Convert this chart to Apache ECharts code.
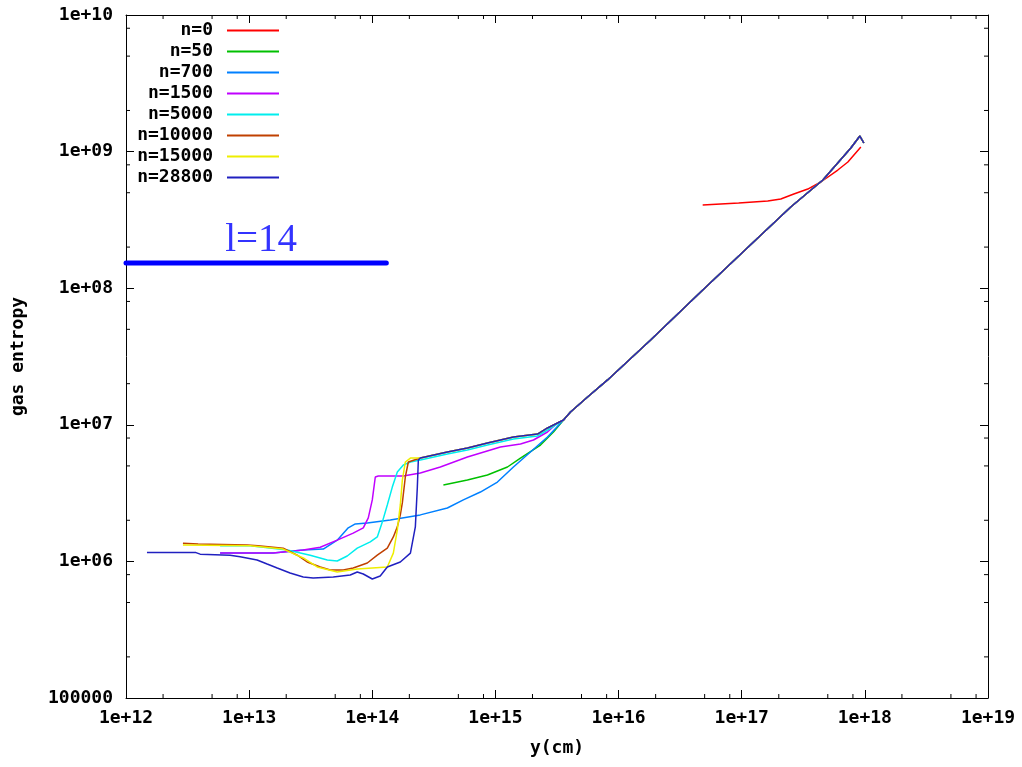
<!DOCTYPE html>
<html>
<head>
<meta charset="utf-8">
<title>gas entropy</title>
<script src="https://cdn.jsdelivr.net/npm/echarts@6/dist/echarts.min.js"></script>
<style>
  html, body { margin: 0; padding: 0; background: #fff; }
  #chart { width: 1022px; height: 767px; }
</style>
</head>
<body>
<div id="chart"></div>
<script>
// ---- tick labels ----
const xTickLabels = ['1e+12', '1e+13', '1e+14', '1e+15', '1e+16', '1e+17', '1e+18', '1e+19'];
const yTickLabels = ['100000', '1e+06', '1e+07', '1e+08', '1e+09', '1e+10'];
const xMinorTicks = [
  2e12, 5e12, 8e12, 2e13, 5e13, 8e13, 2e14, 5e14, 8e14, 2e15, 5e15, 8e15,
  2e16, 5e16, 8e16, 2e17, 5e17, 8e17, 2e18, 5e18, 8e18
];
const yMinorTicks = [
  2e5, 5e5, 8e5, 2e6, 5e6, 8e6, 2e7, 5e7, 8e7, 2e8, 5e8, 8e8, 2e9, 5e9, 8e9
];

// ---- series (y in cm, gas entropy) ----
const seriesNames = ['n=0', 'n=50', 'n=700', 'n=1500', 'n=5000', 'n=10000', 'n=15000', 'n=28800'];
const seriesColors = ['#ff0000', '#00c000', '#0080ff', '#c000ff', '#00eeee', '#c04000', '#eeee00', '#2020c0'];

// outer power-law part shared by all later outputs
const outerTail = [
  [3.57e15, 1.084e7], [4.07e15, 1.24e7], [5.6e15, 1.598e7], [8.14e15, 2.13e7],
  [1.82e16, 4.18e7], [4.64e16, 9.38e7], [1.35e17, 2.33e8], [2.5e17, 3.93e8],
  [4.56e17, 6.2e8], [7.69e17, 1.063e9], [9.11e17, 1.30e9], [9.81e17, 1.156e9]
];
// post-shock branch shared by n=10000, 15000, 28800
const upperBranch = [
  [2.456e14, 5.71e6], [4.07e14, 6.32e6], [5.92e14, 6.76e6], [8.61e14, 7.36e6],
  [1.40e15, 8.14e6], [2.195e15, 8.56e6], [2.647e15, 9.48e6]
];

const n0 = [
  [4.82e16, 4.07e8], [9.45e16, 4.2e8], [1.627e17, 4.35e8], [2.076e17, 4.5e8],
  [2.65e17, 4.89e8], [3.44e17, 5.32e8], [4.39e17, 5.99e8], [6.03e17, 7.33e8],
  [7.28e17, 8.39e8], [9.28e17, 1.08e9]
];
const n50 = [
  [3.78e14, 3.62e6], [5.92e14, 3.94e6], [8.61e14, 4.29e6], [1.252e15, 4.91e6],
  [1.597e15, 5.71e6], [2.322e15, 7.11e6], [2.96e15, 8.86e6]
];
const n700 = [
  [5.81e12, 1.15e6], [1.567e13, 1.15e6], [2.75e13, 1.21e6], [4.0e13, 1.23e6],
  [5.19e13, 1.43e6], [6.38e13, 1.76e6], [7.28e13, 1.88e6], [9.11e13, 1.91e6],
  [1.40e14, 2.01e6], [2.456e14, 2.19e6], [4.07e14, 2.46e6], [5.49e14, 2.82e6],
  [7.55e14, 3.22e6], [1.038e15, 3.81e6], [1.40e15, 4.91e6], [1.925e15, 6.32e6],
  [2.647e15, 8.14e6]
];
const n1500 = [
  [5.81e12, 1.15e6], [1.567e13, 1.15e6], [2.75e13, 1.21e6], [3.78e13, 1.27e6],
  [5.19e13, 1.43e6], [7.0e13, 1.61e6], [8.45e13, 1.76e6], [9.28e13, 2.08e6],
  [1.0e14, 2.82e6], [1.058e14, 4.15e6], [1.119e14, 4.22e6], [1.787e14, 4.22e6],
  [2.456e14, 4.44e6], [3.57e14, 4.91e6], [5.92e14, 5.81e6], [1.098e15, 6.88e6],
  [1.597e15, 7.23e6], [2.037e15, 7.74e6], [2.647e15, 8.86e6], [3.19e15, 1.031e7]
];
const n5000 = [
  [5.81e12, 1.30e6], [1.019e13, 1.30e6], [2.04e13, 1.21e6], [3.13e13, 1.11e6],
  [4.31e13, 1.024e6], [5.19e13, 1.007e6], [6.26e13, 1.095e6], [7.55e13, 1.25e6],
  [9.63e13, 1.39e6], [1.098e14, 1.51e6], [1.206e14, 1.94e6], [1.324e14, 2.59e6],
  [1.454e14, 3.50e6], [1.597e14, 4.51e6], [1.787e14, 5.08e6], [2.04e14, 5.34e6],
  [2.456e14, 5.52e6], [4.07e14, 6.11e6], [5.92e14, 6.54e6], [8.61e14, 7.11e6],
  [1.40e15, 7.87e6], [2.195e15, 8.28e6], [2.647e15, 9.16e6], [3.19e15, 1.014e7]
];
const n10000 = [
  [2.9e12, 1.36e6], [3.85e12, 1.34e6], [9.63e12, 1.32e6], [1.18e13, 1.30e6],
  [1.567e13, 1.27e6], [1.89e13, 1.25e6], [2.46e13, 1.11e6], [2.96e13, 9.9e5],
  [3.78e13, 9.1e5], [4.56e13, 8.65e5], [5.81e13, 8.65e5], [7.0e13, 8.95e5],
  [9.11e13, 9.73e5], [1.098e14, 1.11e6], [1.324e14, 1.25e6], [1.482e14, 1.51e6],
  [1.597e14, 1.79e6], [1.689e14, 2.19e6], [1.754e14, 2.68e6], [1.855e14, 4.15e6],
  [1.962e14, 5.34e6]
];
const n15000 = [
  [2.9e12, 1.32e6], [1.019e13, 1.30e6], [1.89e13, 1.23e6], [2.75e13, 1.06e6],
  [3.57e13, 9.1e5], [5.19e13, 8.36e5], [7.55e13, 8.8e5], [1.324e14, 9.1e5],
  [1.482e14, 1.15e6], [1.597e14, 1.70e6], [1.689e14, 2.59e6], [1.754e14, 3.94e6],
  [1.855e14, 5.34e6], [2.04e14, 5.71e6]
];
const n28800 = [
  [1.48e12, 1.16e6], [3.7e12, 1.16e6], [4.0e12, 1.13e6], [7.0e12, 1.11e6],
  [8.45e12, 1.08e6], [1.16e13, 1.024e6], [1.40e13, 9.57e5], [1.69e13, 8.95e5],
  [2.15e13, 8.22e5], [2.75e13, 7.69e5], [3.31e13, 7.56e5], [4.82e13, 7.69e5],
  [6.62e13, 7.95e5], [7.55e13, 8.36e5], [8.45e13, 8.09e5], [1.0e14, 7.43e5],
  [1.16e14, 7.82e5], [1.324e14, 9.1e5], [1.689e14, 9.9e5], [2.04e14, 1.15e6],
  [2.237e14, 1.79e6], [2.322e14, 3.50e6], [2.366e14, 5.52e6]
];

// reference level marked "l=14"
const levelLabel = 'l=14';
const levelLine = [[1e12, 1.53e8], [1.30e14, 1.53e8]];
const levelTextAt = [[1.25e13, 1.53e8]];

const seriesData = [
  n0,
  n50.concat(outerTail),
  n700.concat(outerTail),
  n1500.concat(outerTail),
  n5000.concat(outerTail),
  n10000.concat(upperBranch, outerTail),
  n15000.concat(upperBranch, outerTail),
  n28800.concat(upperBranch, outerTail)
];

// ---- chart ----
const X_MIN = 1e12, X_MAX = 1e19, Y_MIN = 1e5, Y_MAX = 1e10;
const MONO = "'DejaVu Sans Mono', 'Liberation Mono', monospace";
const labelFont = { fontFamily: MONO, fontSize: 18, fontWeight: 'bold', color: '#000' };
const frameLine = { lineStyle: { color: '#000', width: 1 } };
const majorTick = { show: true, inside: true, length: 8, lineStyle: { color: '#000', width: 1 } };

function xLabel(v) { return xTickLabels[Math.round(Math.log10(v)) - 12]; }
function yLabel(v) { return yTickLabels[Math.round(Math.log10(v)) - 5]; }

function renderXMinor(params, api) {
  const v = api.value(0);
  const b = api.coord([v, Y_MIN]);
  const t = api.coord([v, Y_MAX]);
  const st = { stroke: '#000', lineWidth: 1 };
  return {
    type: 'group',
    children: [
      { type: 'line', shape: { x1: b[0], y1: b[1], x2: b[0], y2: b[1] - 4 }, style: st },
      { type: 'line', shape: { x1: t[0], y1: t[1], x2: t[0], y2: t[1] + 4 }, style: st }
    ]
  };
}
function renderYMinor(params, api) {
  const v = api.value(1);
  const l = api.coord([X_MIN, v]);
  const r = api.coord([X_MAX, v]);
  const st = { stroke: '#000', lineWidth: 1 };
  return {
    type: 'group',
    children: [
      { type: 'line', shape: { x1: l[0], y1: l[1], x2: l[0] + 4, y2: l[1] }, style: st },
      { type: 'line', shape: { x1: r[0], y1: r[1], x2: r[0] - 4, y2: r[1] }, style: st }
    ]
  };
}

const curveSeries = seriesNames.map((name, i) => ({
  name: name,
  type: 'line',
  data: seriesData[i],
  xAxisIndex: 0,
  yAxisIndex: 0,
  showSymbol: false,
  symbol: 'none',
  lineStyle: { color: seriesColors[i], width: 1.5 },
  itemStyle: { color: seriesColors[i] },
  z: 3 + i
}));

const chart = echarts.init(document.getElementById('chart'), null, { renderer: 'canvas' });
chart.setOption({
  animation: false,
  backgroundColor: '#fff',
  grid: { left: 126, right: 34, top: 15, bottom: 69 },
  legend: {
    data: seriesNames,
    orient: 'vertical',
    left: 123,
    top: 20,
    align: 'right',
    icon: 'rect',
    itemWidth: 52,
    itemHeight: 2,
    itemGap: 0,
    padding: 0,
    selectedMode: false,
    textStyle: {
      fontFamily: MONO, fontSize: 18, fontWeight: 'bold', color: '#000',
      width: 90, align: 'right', lineHeight: 21, padding: [0, 9, 0, 0]
    }
  },
  xAxis: [
    {
      type: 'log', logBase: 10, min: X_MIN, max: X_MAX, splitNumber: 7,
      position: 'bottom',
      name: 'y(cm)', nameLocation: 'middle', nameGap: 41,
      nameTextStyle: labelFont,
      axisLine: frameLine, axisTick: majorTick,
      axisLabel: Object.assign({ formatter: xLabel, margin: 11, showMinLabel: true, showMaxLabel: true }, labelFont),
      splitLine: { show: false }, minorTick: { show: false }
    },
    {
      type: 'log', logBase: 10, min: X_MIN, max: X_MAX, splitNumber: 7,
      position: 'top',
      axisLine: frameLine, axisTick: majorTick,
      axisLabel: { show: false }, splitLine: { show: false }
    }
  ],
  yAxis: [
    {
      type: 'log', logBase: 10, min: Y_MIN, max: Y_MAX, splitNumber: 5,
      position: 'left',
      name: 'gas entropy', nameLocation: 'middle', nameGap: 99, nameRotate: 90,
      nameTextStyle: labelFont,
      axisLine: frameLine, axisTick: majorTick,
      axisLabel: Object.assign({ formatter: yLabel, margin: 13, showMinLabel: true, showMaxLabel: true }, labelFont),
      splitLine: { show: false }
    },
    {
      type: 'log', logBase: 10, min: Y_MIN, max: Y_MAX, splitNumber: 5,
      position: 'right',
      axisLine: frameLine, axisTick: majorTick,
      axisLabel: { show: false }, splitLine: { show: false }
    }
  ],
  series: [
    {
      name: 'xMinor', type: 'custom', silent: true, clip: false,
      renderItem: renderXMinor,
      data: xMinorTicks.map(v => [v, Y_MIN]),
      encode: { x: 0, y: 1 }, z: 1
    },
    {
      name: 'yMinor', type: 'custom', silent: true, clip: false,
      renderItem: renderYMinor,
      data: yMinorTicks.map(v => [X_MIN, v]),
      encode: { x: 0, y: 1 }, z: 1
    }
  ].concat(curveSeries, [
    {
      name: levelLabel, type: 'line', data: levelLine, symbol: 'none', silent: true,
      lineStyle: { color: '#0000ff', width: 5, cap: 'round' }, z: 12
    },
    {
      name: levelLabel + ' text', type: 'scatter', data: levelTextAt, symbolSize: 0, silent: true,
      label: {
        show: true, position: 'top', distance: 3, formatter: levelLabel,
        fontFamily: "'Liberation Serif', 'DejaVu Serif', serif", fontSize: 39, color: '#0000ff'
      },
      z: 12
    }
  ])
});
</script>
</body>
</html>
